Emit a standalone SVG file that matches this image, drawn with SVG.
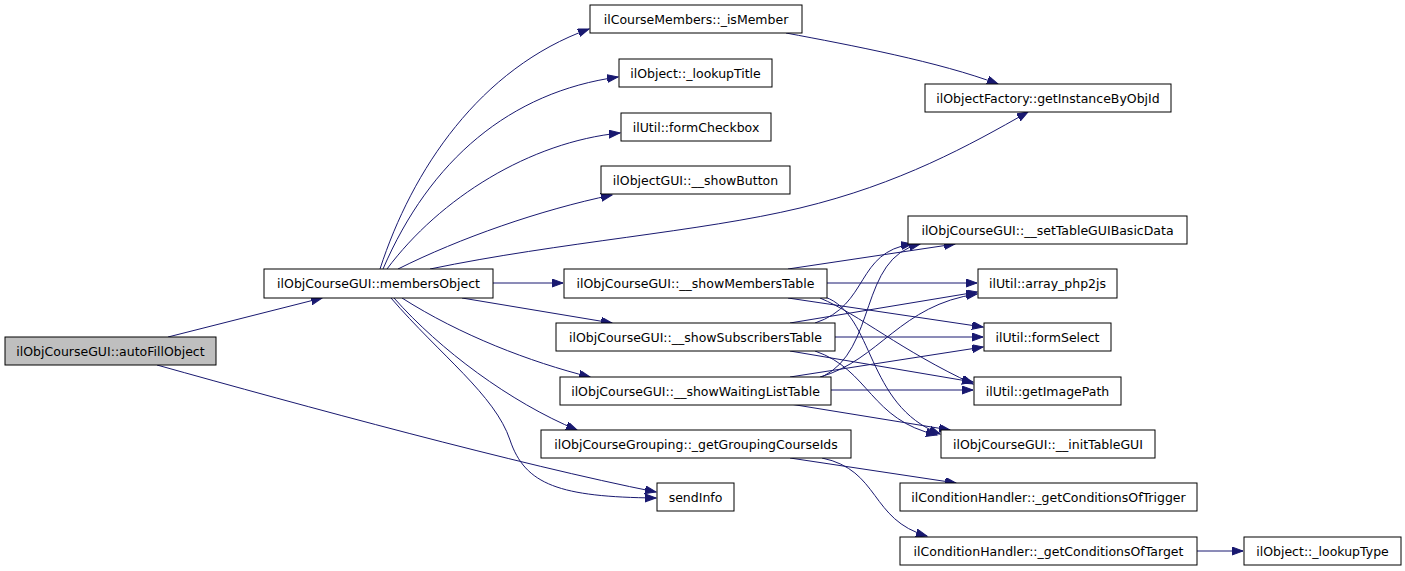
<svg xmlns="http://www.w3.org/2000/svg" width="1405" height="571" viewBox="0 0 1405 571">
<style>
  .node rect { fill: #ffffff; stroke: #000000; stroke-width: 1; }
  .node.root rect { fill: #bfbfbf; }
  .node text { font-family: "DejaVu Sans", "Liberation Sans", sans-serif; font-size: 12.5px; fill: #000000; text-anchor: middle; }
  .edges path { fill: none; stroke: #191970; stroke-width: 1; marker-end: url(#arr); }
</style>
<defs>
  <marker id="arr" markerUnits="userSpaceOnUse" markerWidth="13" markerHeight="10" refX="11" refY="4" orient="auto">
    <path d="M0,0 L11,4 L0,8 z" fill="#191970" stroke="#191970" stroke-width="1"/>
  </marker>
</defs>
<rect width="1405" height="571" fill="#ffffff"/>
<g id="edges" class="edges">
  <path d="M168,337 L322,298"/>
  <path d="M157,365 C 300,405 520,465 656,492"/>
  <path d="M380,269 C 412,170 480,68 589,29"/>
  <path d="M383,269 C 430,160 510,92 618,77"/>
  <path d="M387,269 C 440,198 530,142 620,133"/>
  <path d="M398,269 C 460,238 540,210 612,195"/>
  <path d="M430,269 C 560,242 700,232 800,208 C 900,184 970,145 1028,112"/>
  <path d="M786,33 C 850,45 940,62 998,84"/>
  <path d="M493,283 L563,283"/>
  <path d="M462,298 L612,323"/>
  <path d="M402,298 C 460,335 530,362 590,377"/>
  <path d="M394,298 C 440,350 510,402 577,430"/>
  <path d="M391,298 C 440,355 495,395 510,440 C 525,485 560,497 656,498"/>
  <path d="M788,269 L955,244"/>
  <path d="M827,283 L977,283"/>
  <path d="M788,298 L983,327"/>
  <path d="M820,298 C 860,315 900,350 973,384"/>
  <path d="M825,297 C 875,315 865,405 940,434"/>
  <path d="M815,323 C 870,305 855,252 912,244"/>
  <path d="M790,323 L977,292"/>
  <path d="M835,337 L983,337"/>
  <path d="M790,351 L973,382"/>
  <path d="M815,351 C 870,370 870,420 937,435"/>
  <path d="M822,377 C 878,350 858,258 920,244"/>
  <path d="M820,377 C 880,360 900,305 977,294"/>
  <path d="M790,377 L983,347"/>
  <path d="M831,390 L973,390"/>
  <path d="M790,404 L950,430"/>
  <path d="M790,458 L956,483"/>
  <path d="M822,458 C 880,470 870,520 927,536"/>
  <path d="M1197,551 L1243,551"/>
</g>
<g id="n_autoFillObject" class="node root"><rect x="5" y="337" width="211" height="28"/><text x="110.5" y="355.5">ilObjCourseGUI::autoFillObject</text></g>
<g id="n_membersObject" class="node"><rect x="264" y="269" width="229" height="29"/><text x="378.5" y="288">ilObjCourseGUI::membersObject</text></g>
<g id="n_isMember" class="node"><rect x="590" y="5" width="212" height="28"/><text x="696" y="23.5">ilCourseMembers::_isMember</text></g>
<g id="n_lookupTitle" class="node"><rect x="619" y="59" width="153" height="28"/><text x="695.5" y="77.5">ilObject::_lookupTitle</text></g>
<g id="n_formCheckbox" class="node"><rect x="621" y="113" width="150" height="28"/><text x="696" y="131.5">ilUtil::formCheckbox</text></g>
<g id="n_showButton" class="node"><rect x="601" y="166" width="189" height="28"/><text x="695.5" y="184.5">ilObjectGUI::__showButton</text></g>
<g id="n_getInstanceByObjId" class="node"><rect x="925" y="84" width="246" height="28"/><text x="1048" y="102.5">ilObjectFactory::getInstanceByObjId</text></g>
<g id="n_showMembersTable" class="node"><rect x="564" y="269" width="263" height="29"/><text x="695.5" y="288">ilObjCourseGUI::__showMembersTable</text></g>
<g id="n_showSubscribersTable" class="node"><rect x="556" y="323" width="279" height="28"/><text x="695.5" y="341.5">ilObjCourseGUI::__showSubscribersTable</text></g>
<g id="n_showWaitingListTable" class="node"><rect x="560" y="377" width="271" height="28"/><text x="695.5" y="395.5">ilObjCourseGUI::__showWaitingListTable</text></g>
<g id="n_getGroupingCourseIds" class="node"><rect x="541" y="430" width="310" height="28"/><text x="696" y="448.5">ilObjCourseGrouping::_getGroupingCourseIds</text></g>
<g id="n_sendInfo" class="node"><rect x="657" y="483" width="77" height="28"/><text x="695.5" y="501.5">sendInfo</text></g>
<g id="n_setTableGUIBasicData" class="node"><rect x="908" y="216" width="279" height="28"/><text x="1047.5" y="234.5">ilObjCourseGUI::__setTableGUIBasicData</text></g>
<g id="n_array_php2js" class="node"><rect x="978" y="269" width="139" height="29"/><text x="1047.5" y="288">ilUtil::array_php2js</text></g>
<g id="n_formSelect" class="node"><rect x="984" y="323" width="127" height="28"/><text x="1047.5" y="341.5">ilUtil::formSelect</text></g>
<g id="n_getImagePath" class="node"><rect x="974" y="377" width="147" height="28"/><text x="1047.5" y="395.5">ilUtil::getImagePath</text></g>
<g id="n_initTableGUI" class="node"><rect x="941" y="430" width="214" height="28"/><text x="1048" y="448.5">ilObjCourseGUI::__initTableGUI</text></g>
<g id="n_getConditionsOfTrigger" class="node"><rect x="900" y="483" width="297" height="28"/><text x="1048.5" y="501.5">ilConditionHandler::_getConditionsOfTrigger</text></g>
<g id="n_getConditionsOfTarget" class="node"><rect x="900" y="537" width="297" height="28"/><text x="1048.5" y="555.5">ilConditionHandler::_getConditionsOfTarget</text></g>
<g id="n_lookupType" class="node"><rect x="1244" y="537" width="157" height="28"/><text x="1322.5" y="555.5">ilObject::_lookupType</text></g>
</svg>
